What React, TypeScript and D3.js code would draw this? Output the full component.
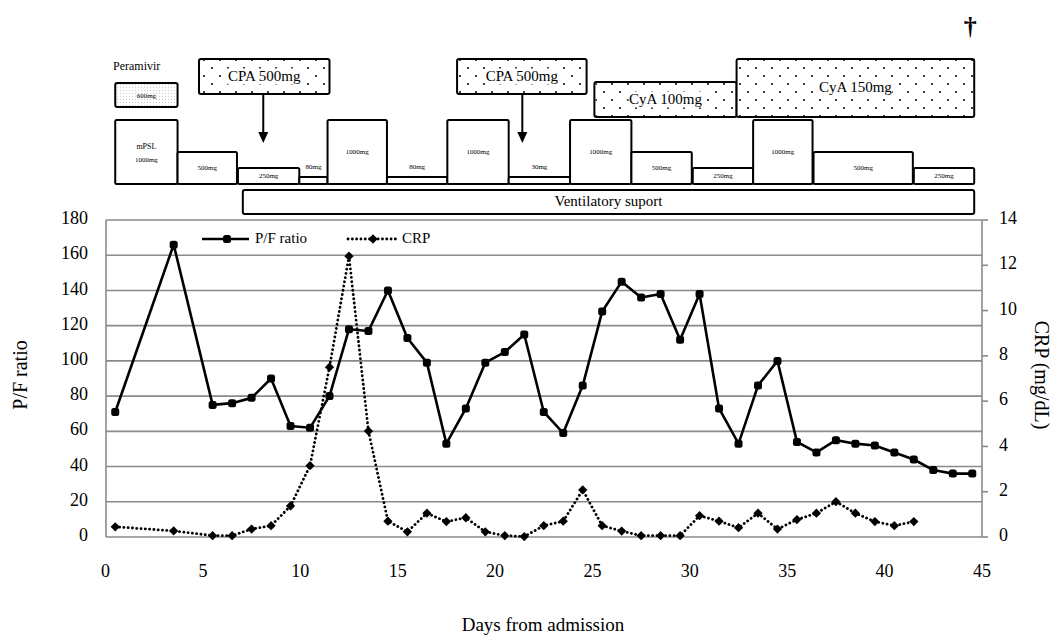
import React, { useEffect, useRef } from "react";
import * as d3 from "d3";

// P/F ratio (left axis)
const pfDays = [0.5, 3.5, 5.5, 6.5, 7.5, 8.5, 9.5, 10.5, 11.5, 12.5, 13.5, 14.5, 15.5, 16.5, 17.5, 18.5, 19.5, 20.5, 21.5, 22.5, 23.5, 24.5, 25.5, 26.5, 27.5, 28.5, 29.5, 30.5, 31.5, 32.5, 33.5, 34.5, 35.5, 36.5, 37.5, 38.5, 39.5, 40.5, 41.5, 42.5, 43.5, 44.5];
const pfValues = [71, 166, 75, 76, 79, 90, 63, 62, 80, 118, 117, 140, 113, 99, 53, 73, 99, 105, 115, 71, 59, 86, 128, 145, 136, 138, 112, 138, 73, 53, 86, 100, 54, 48, 55, 53, 52, 48, 44, 38, 36, 36];

// CRP mg/dL (right axis)
const crpDays = [0.5, 3.5, 5.5, 6.5, 7.5, 8.5, 9.5, 10.5, 11.5, 12.5, 13.5, 14.5, 15.5, 16.5, 17.5, 18.5, 19.5, 20.5, 21.5, 22.5, 23.5, 24.5, 25.5, 26.5, 27.5, 28.5, 29.5, 30.5, 31.5, 32.5, 33.5, 34.5, 35.5, 36.5, 37.5, 38.5, 39.5, 40.5, 41.5];
const crpValues = [0.45, 0.27, 0.06, 0.06, 0.35, 0.5, 1.37, 3.15, 7.5, 12.4, 4.68, 0.7, 0.23, 1.05, 0.68, 0.85, 0.23, 0.06, 0.02, 0.5, 0.7, 2.08, 0.5, 0.26, 0.06, 0.06, 0.06, 0.94, 0.7, 0.41, 1.05, 0.35, 0.77, 1.05, 1.56, 1.05, 0.68, 0.5, 0.68];

const xTicks = [0, 5, 10, 15, 20, 25, 30, 35, 40, 45];
const leftTicks = [0, 20, 40, 60, 80, 100, 120, 140, 160, 180];
const rightTicks = [0, 2, 4, 6, 8, 10, 12, 14];

// mPSL pulse / taper blocks
const steroidStart = [0.5, 3.7, 6.8, 9.95, 11.4, 14.45, 17.55, 20.7, 23.85, 27.0, 30.15, 33.25, 36.35, 41.5];
const steroidEnd = [3.7, 6.75, 9.95, 11.4, 14.45, 17.55, 20.7, 23.85, 27.0, 30.1, 33.25, 36.3, 41.45, 44.6];
const steroidDose = [1000, 500, 250, 80, 1000, 80, 1000, 30, 1000, 500, 250, 1000, 500, 250];

// immunosuppressants
const immunoLabels = ["CPA 500mg", "CPA 500mg", "CyA 100mg", "CyA 150mg"];
const immunoStart = [4.8, 18.05, 25.1, 32.4];
const immunoEnd = [11.5, 24.7, 32.4, 44.6];
const cpaArrowDays = [8.1, 21.4];

const peramivirSpan = [0.5, 3.7];
const ventSpan = [7.05, 44.6];
const deathDay = 44.4;

const FONT = "Liberation Serif, serif";

export default function App() {
  const ref = useRef<SVGSVGElement>(null);

  useEffect(() => {
    const svg = d3.select(ref.current);
    svg.selectAll("*").remove();

    const top = 220,
      bottom = 537,
      left = 106,
      right = 982;

    const x = d3.scaleLinear().domain([0, 45]).range([105.5, 982]);
    const yL = d3.scaleLinear().domain([0, 180]).range([bottom, top]);
    const yR = d3.scaleLinear().domain([0, 14]).range([bottom, top]);
    const doseH = d3.scaleLinear().domain([0, 1000]).range([0, 64]);

    const defs = svg.append("defs");
    const dots = defs
      .append("pattern")
      .attr("id", "dots")
      .attr("patternUnits", "userSpaceOnUse")
      .attr("width", 16)
      .attr("height", 16);
    dots.append("circle").attr("cx", 4).attr("cy", 4).attr("r", 1.1).attr("fill", "#111");
    dots.append("circle").attr("cx", 12).attr("cy", 12).attr("r", 1.1).attr("fill", "#111");
    const fine = defs
      .append("pattern")
      .attr("id", "fine")
      .attr("patternUnits", "userSpaceOnUse")
      .attr("width", 3)
      .attr("height", 3);
    fine.append("rect").attr("width", 1).attr("height", 1).attr("fill", "#ccc");

    // ---- treatment diagram ----
    const g = svg.append("g").attr("font-family", FONT);

    g.append("text")
      .attr("x", 113)
      .attr("y", 67)
      .attr("dominant-baseline", "middle")
      .attr("font-size", 12)
      .text("Peramivir");
    g.append("rect")
      .attr("x", x(peramivirSpan[0]))
      .attr("y", 83)
      .attr("width", x(peramivirSpan[1]) - x(peramivirSpan[0]))
      .attr("height", 24)
      .attr("rx", 2)
      .attr("fill", "url(#fine)")
      .attr("stroke", "#000")
      .attr("stroke-width", 2);
    g.append("text")
      .attr("x", (x(peramivirSpan[0]) + x(peramivirSpan[1])) / 2)
      .attr("y", 96)
      .attr("text-anchor", "middle")
      .attr("dominant-baseline", "middle")
      .attr("font-size", 7)
      .text("600mg");

    // immunosuppressant boxes
    const immunoRows = [
      [59, 94],
      [59, 94],
      [82, 117],
      [59, 117],
    ];
    immunoLabels.forEach((lab, i) => {
      const x0 = x(immunoStart[i]),
        x1 = x(immunoEnd[i]);
      const [y0, y1] = immunoRows[i];
      g.append("rect")
        .attr("x", x0)
        .attr("y", y0)
        .attr("width", x1 - x0)
        .attr("height", y1 - y0)
        .attr("rx", 2)
        .attr("fill", "#fff")
        .attr("stroke", "#000")
        .attr("stroke-width", 2);
      g.append("rect")
        .attr("x", x0 + 1)
        .attr("y", y0 + 1)
        .attr("width", x1 - x0 - 2)
        .attr("height", y1 - y0 - 2)
        .attr("fill", "url(#dots)");
      const tw = lab.length * 8.2;
      g.append("rect")
        .attr("x", (x0 + x1) / 2 - tw / 2)
        .attr("y", (y0 + y1) / 2 - 8)
        .attr("width", tw)
        .attr("height", 16)
        .attr("fill", "#fff");
      g.append("text")
        .attr("x", (x0 + x1) / 2)
        .attr("y", (y0 + y1) / 2 + 1)
        .attr("text-anchor", "middle")
        .attr("dominant-baseline", "middle")
        .attr("font-size", 15)
        .text(lab);
    });

    // CPA arrows
    cpaArrowDays.forEach((d) => {
      const ax = x(d);
      g.append("line")
        .attr("x1", ax)
        .attr("x2", ax)
        .attr("y1", 94)
        .attr("y2", 134)
        .attr("stroke", "#000")
        .attr("stroke-width", 2);
      g.append("path")
        .attr("d", `M${ax - 5},132 L${ax + 5},132 L${ax},143 Z`)
        .attr("fill", "#000");
    });

    // mPSL blocks
    const base = 184;
    steroidDose.forEach((dose, i) => {
      const x0 = x(steroidStart[i]),
        x1 = x(steroidEnd[i]);
      const h = Math.max(7, doseH(dose));
      g.append("rect")
        .attr("x", x0)
        .attr("y", base - h)
        .attr("width", x1 - x0)
        .attr("height", h)
        .attr("rx", 1.5)
        .attr("fill", "#fff")
        .attr("stroke", "#000")
        .attr("stroke-width", 2);
      const cx = (x0 + x1) / 2;
      let ty = base - h / 2;
      if (h <= 7) ty = 167;
      if (i === 0) {
        g.append("text")
          .attr("x", cx)
          .attr("y", 147)
          .attr("text-anchor", "middle")
          .attr("dominant-baseline", "middle")
          .attr("font-size", 8)
          .text("mPSL");
        ty = 160;
      }
      g.append("text")
        .attr("x", cx)
        .attr("y", ty)
        .attr("text-anchor", "middle")
        .attr("dominant-baseline", "middle")
        .attr("font-size", 7)
        .text(dose + "mg");
    });

    // ventilatory support
    g.append("rect")
      .attr("x", x(ventSpan[0]))
      .attr("y", 190)
      .attr("width", x(ventSpan[1]) - x(ventSpan[0]))
      .attr("height", 24)
      .attr("rx", 2)
      .attr("fill", "#fff")
      .attr("stroke", "#000")
      .attr("stroke-width", 2);
    g.append("text")
      .attr("x", (x(ventSpan[0]) + x(ventSpan[1])) / 2)
      .attr("y", 203)
      .attr("text-anchor", "middle")
      .attr("dominant-baseline", "middle")
      .attr("font-size", 15)
      .text("Ventilatory suport");

    g.append("text")
      .attr("x", x(deathDay))
      .attr("y", 29)
      .attr("text-anchor", "middle")
      .attr("dominant-baseline", "middle")
      .attr("font-size", 26)
      .attr("font-weight", "bold")
      .text("\u2020");

    // ---- chart ----
    const c = svg.append("g").attr("font-family", FONT);

    c.selectAll(".grid")
      .data(leftTicks)
      .join("line")
      .attr("x1", left)
      .attr("x2", right)
      .attr("y1", (d) => yL(d))
      .attr("y2", (d) => yL(d))
      .attr("stroke", "#8a8a8a")
      .attr("stroke-width", 1.6);
    c.append("line")
      .attr("x1", left)
      .attr("x2", left)
      .attr("y1", top)
      .attr("y2", bottom)
      .attr("stroke", "#8a8a8a")
      .attr("stroke-width", 1.6);
    c.append("line")
      .attr("x1", right)
      .attr("x2", right)
      .attr("y1", top)
      .attr("y2", bottom)
      .attr("stroke", "#8a8a8a")
      .attr("stroke-width", 1.6);
    c.selectAll(".rtick")
      .data(rightTicks)
      .join("line")
      .attr("x1", right)
      .attr("x2", right + 6)
      .attr("y1", (d) => yR(d))
      .attr("y2", (d) => yR(d))
      .attr("stroke", "#8a8a8a")
      .attr("stroke-width", 1.6);

    c.selectAll(".ltxt")
      .data(leftTicks)
      .join("text")
      .attr("x", 88)
      .attr("y", (d) => yL(d))
      .attr("text-anchor", "end")
      .attr("dominant-baseline", "middle")
      .attr("font-size", 18)
      .text((d) => d);
    c.selectAll(".rtxt")
      .data(rightTicks)
      .join("text")
      .attr("x", 999)
      .attr("y", (d) => yR(d))
      .attr("text-anchor", "start")
      .attr("dominant-baseline", "middle")
      .attr("font-size", 18)
      .text((d) => d);
    c.selectAll(".xtxt")
      .data(xTicks)
      .join("text")
      .attr("x", (d) => x(d))
      .attr("y", 573)
      .attr("text-anchor", "middle")
      .attr("dominant-baseline", "middle")
      .attr("font-size", 18)
      .text((d) => d);

    c.append("text")
      .attr("transform", "translate(22,375) rotate(-90)")
      .attr("text-anchor", "middle")
      .attr("dominant-baseline", "middle")
      .attr("font-size", 20)
      .text("P/F ratio");
    c.append("text")
      .attr("transform", "translate(1040,375) rotate(90)")
      .attr("text-anchor", "middle")
      .attr("dominant-baseline", "middle")
      .attr("font-size", 20)
      .text("CRP (mg/dL)");
    c.append("text")
      .attr("x", 543)
      .attr("y", 627)
      .attr("text-anchor", "middle")
      .attr("dominant-baseline", "middle")
      .attr("font-size", 19)
      .text("Days from admission");

    // CRP
    const crpLine = d3
      .line<number>()
      .x((d, i) => x(crpDays[i]))
      .y((d) => yR(d));
    c.append("path")
      .attr("d", crpLine(crpValues))
      .attr("fill", "none")
      .attr("stroke", "#000")
      .attr("stroke-width", 2.8)
      .attr("stroke-linecap", "round")
      .attr("stroke-dasharray", "0.1,4.2");
    const diamond = d3.symbol().type(d3.symbolDiamond2).size(55);
    c.selectAll(".crpm")
      .data(crpValues)
      .join("path")
      .attr("transform", (d, i) => `translate(${x(crpDays[i])},${yR(d)})`)
      .attr("d", diamond)
      .attr("fill", "#000");

    // P/F
    const pfLine = d3
      .line<number>()
      .x((d, i) => x(pfDays[i]))
      .y((d) => yL(d));
    c.append("path")
      .attr("d", pfLine(pfValues))
      .attr("fill", "none")
      .attr("stroke", "#000")
      .attr("stroke-width", 2.6)
      .attr("stroke-linejoin", "round");
    c.selectAll(".pfm")
      .data(pfValues)
      .join("rect")
      .attr("x", (d, i) => x(pfDays[i]) - 4)
      .attr("y", (d) => yL(d) - 4)
      .attr("width", 8)
      .attr("height", 8)
      .attr("rx", 2.5)
      .attr("fill", "#000");

    // legend
    const lg = c.append("g").attr("font-size", 15);
    lg.append("line")
      .attr("x1", 202)
      .attr("x2", 249)
      .attr("y1", 239)
      .attr("y2", 239)
      .attr("stroke", "#000")
      .attr("stroke-width", 2.6);
    lg.append("rect")
      .attr("x", 223)
      .attr("y", 235)
      .attr("width", 8)
      .attr("height", 8)
      .attr("rx", 2.5)
      .attr("fill", "#000");
    lg.append("text")
      .attr("x", 255)
      .attr("y", 240)
      .attr("dominant-baseline", "middle")
      .text("P/F ratio");
    lg.append("line")
      .attr("x1", 348)
      .attr("x2", 396)
      .attr("y1", 239)
      .attr("y2", 239)
      .attr("stroke", "#000")
      .attr("stroke-width", 2.8)
      .attr("stroke-linecap", "round")
      .attr("stroke-dasharray", "0.1,4.2");
    lg.append("path")
      .attr("transform", "translate(373,239)")
      .attr("d", diamond)
      .attr("fill", "#000");
    lg.append("text")
      .attr("x", 402)
      .attr("y", 240)
      .attr("dominant-baseline", "middle")
      .text("CRP");
  }, []);

  return (
    <svg
      ref={ref}
      width={1062}
      height={639}
      style={{ position: "absolute", left: 0, top: 0, background: "#fff" }}
    />
  );
}
